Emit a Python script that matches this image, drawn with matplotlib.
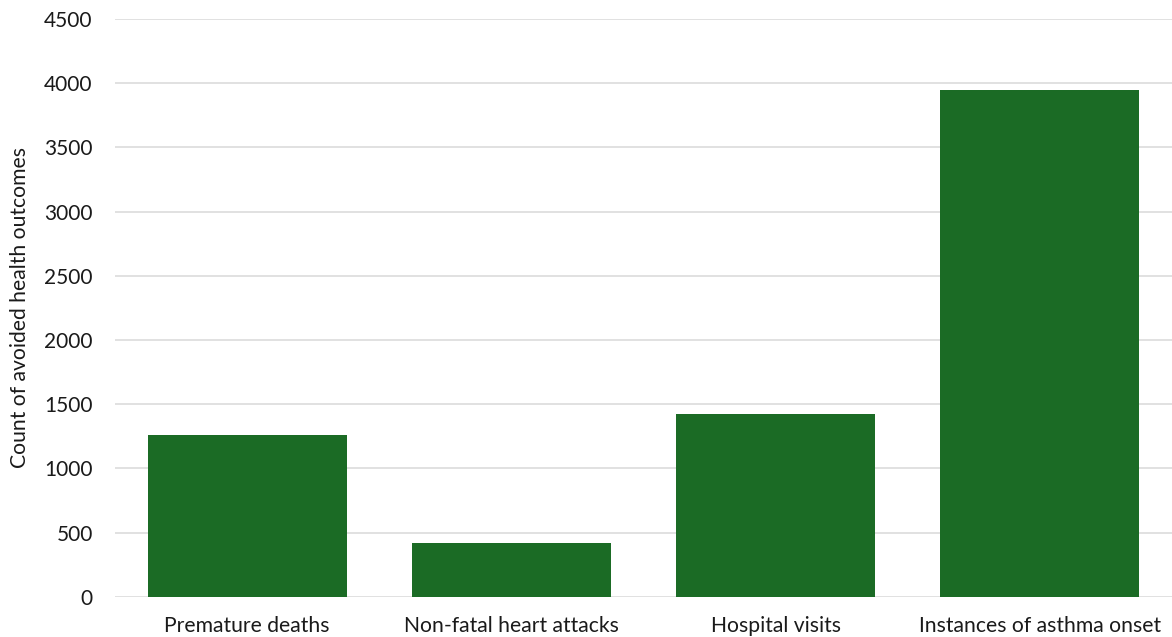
import matplotlib
matplotlib.use("Agg")
import matplotlib.pyplot as plt

# Avoided health outcomes by category
categories = ["Premature deaths", "Non-fatal heart attacks", "Hospital visits", "Instances of asthma onset"]
avoided_counts = [1258, 416, 1420, 3949]
y_ticks = [0, 500, 1000, 1500, 2000, 2500, 3000, 3500, 4000, 4500]

plt.rcParams['font.family'] = ['Lato', 'DejaVu Sans']

fig = plt.figure(figsize=(11.72, 6.37), dpi=100)
ax = fig.add_axes([115 / 1172, 1 - 596.7 / 637, 1057 / 1172, 577.7 / 637])

x = range(len(categories))
ax.bar(x, avoided_counts, width=0.753, color="#1B6B25", zorder=3)

ax.set_xlim(-0.5, len(categories) - 0.5)
ax.set_ylim(0, 4500)
ax.set_yticks(y_ticks)
ax.set_yticklabels([str(t) for t in y_ticks], fontsize=15, color="#1a1a1a")
ax.set_xticks(list(x))
ax.set_xticklabels(categories, fontsize=15.2, color="#1a1a1a")

ax.yaxis.grid(True, color="#D9D9D9", linewidth=1.1, zorder=0)
ax.xaxis.grid(False)
for side in ["top", "right", "left", "bottom"]:
    ax.spines[side].set_visible(False)
ax.tick_params(axis="both", length=0)
ax.tick_params(axis="y", pad=16)
ax.tick_params(axis="x", pad=14)

ax.set_ylabel("Count of avoided health outcomes", fontsize=15.2, color="#1a1a1a", labelpad=10)

fig.savefig("out.png", dpi=100, facecolor="white")
